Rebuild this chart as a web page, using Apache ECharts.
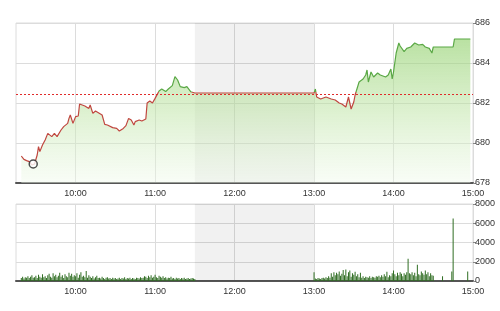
<!DOCTYPE html>
<html>
<head>
<meta charset="utf-8">
<script src="https://cdn.jsdelivr.net/npm/echarts@6/dist/echarts.min.js"></script>
<style>html,body{margin:0;padding:0;background:#fff}#c{width:500px;height:311px}</style>
</head>
<body>
<div id="c"></div>
<script>
// ---- data ----
const refLevel = 682.45;
const colorSplit = 682.52;
const priceTimes = ['09:19','09:21','09:23','09:25','09:27','09:29','09:31','09:32','09:33','09:35','09:37','09:39','09:40','09:42','09:44','09:46','09:49','09:51','09:54','09:55','09:56','09:58','10:00','10:02','10:03','10:05','10:07','10:08','10:10','10:11','10:13','10:15','10:20','10:22','10:24','10:28','10:31','10:33','10:36','10:38','10:40','10:42','10:44','10:45','10:48','10:50','10:53','10:54','10:56','10:58','11:00','11:03','11:05','11:08','11:10','11:13','11:15','11:17','11:19','11:22','11:24','11:27','11:28','11:30','13:00','13:01','13:02','13:05','13:09','13:13','13:16','13:19','13:21','13:24','13:26','13:28','13:30','13:31','13:34','13:37','13:39','13:40','13:41','13:43','13:45','13:48','13:50','13:54','13:56','13:58','13:59','14:00','14:02','14:04','14:05','14:08','14:10','14:13','14:16','14:19','14:22','14:24','14:27','14:29','14:30','14:45','14:46','14:58'];
const priceValues = [679.35,679.18,679.12,679.07,678.9,678.95,679.4,679.82,679.57,679.9,680.15,680.48,680.42,680.32,680.48,680.32,680.65,680.82,680.98,681.23,681.4,680.98,681.32,681.35,681.95,681.9,681.85,681.9,681.73,681.9,681.48,681.6,681.4,680.93,680.9,680.77,680.73,680.6,680.73,680.87,681.23,681.15,680.9,681.07,681.15,681.1,681.2,682.0,682.1,682.0,682.23,682.6,682.7,682.57,682.7,682.87,683.32,683.15,682.82,682.77,682.82,682.56,682.6,682.5,682.5,682.7,682.3,682.2,682.3,682.2,682.15,682.0,681.95,681.8,682.3,681.7,682.05,682.4,683.05,683.2,683.4,683.65,683.05,683.55,683.3,683.5,683.4,683.3,683.4,683.7,683.2,683.55,684.5,685.0,684.85,684.57,684.73,684.8,685.0,684.9,684.93,684.8,684.73,684.5,684.8,684.8,685.2,685.2];
const markerTime = '09:28';
const markerValue = 678.95;

const volMorningStart = '09:19';
const volMorning = [300,450,250,400,350,500,300,450,600,350,
  400,550,300,650,450,350,700,400,500,300,
  600,750,450,350,800,500,650,400,550,850,
  450,600,300,700,500,400,850,550,750,450,
  600,500,800,350,650,900,450,550,400,1050,
  350,600,450,300,500,250,400,550,300,350,
  250,450,300,200,350,400,250,300,200,350,
  250,300,200,250,350,200,300,250,400,200,
  300,250,350,200,300,250,200,350,300,250,
  400,300,350,500,450,300,550,400,600,350,
  450,650,400,300,550,450,350,500,300,400,
  250,350,300,450,250,300,200,350,250,300,
  200,300,250,350,200,250,300,200,250,300,
  250,200];
const volAfternoonStart = '13:00';
const volAfternoon = [900,
  250,200,300,250,200,300,350,250,400,300,
  500,350,800,450,900,600,850,700,1000,550,
  750,1150,600,1200,500,900,1100,450,800,650,
  950,500,700,400,850,350,500,300,450,400,
  350,500,300,450,400,350,500,450,550,400,
  600,450,700,500,950,400,600,500,800,1100,
  700,500,850,600,900,750,500,800,650,900,
  2300,800,700,900,600,850,500,1700,700,600,
  1000,800,650,1100,700,900,500,800,600,550];
const volLateTimes = ['14:37','14:44','14:45','14:56'];
const volLateValues = [500,1000,6500,1000];

const priceTicks = {min:678, max:686, step:2};
const volTicks = {min:0, max:8000, step:2000};
const lunch = ['11:30','13:00'];

// ---- build ----
const pad = n => (n < 10 ? '0' : '') + n;
const toMin = s => { const p = s.split(':'); return +p[0]*60 + +p[1]; };
const toStr = m => pad(Math.floor(m/60)) + ':' + pad(m % 60);
const times = [];
for (let m = toMin('09:15'); m <= toMin('15:00'); m++) times.push(toStr(m));

const volData = [];
volMorning.forEach((v,i)=>volData.push([toStr(toMin(volMorningStart)+i), v]));
volAfternoon.forEach((v,i)=>volData.push([toStr(toMin(volAfternoonStart)+i), v]));
volLateTimes.forEach((t,i)=>volData.push([t, volLateValues[i]]));

const isHour = (i, v) => /:00$/.test(v);
const font = 'Liberation Sans, Arial, sans-serif';
const red = '#c0463f', green = '#5aa845';

const pMax = Math.max(...priceValues), pMin = Math.min(...priceValues);
const f = (pMax - colorSplit) / (pMax - pMin);
const lineGrad = new echarts.graphic.LinearGradient(0,0,0,1,[
  {offset:0, color:green},{offset:f, color:green},{offset:f, color:red},{offset:1, color:red}]);

function xAx(gi){
  return {type:'category', gridIndex:gi, data:times, boundaryGap:false,
    axisLine:{show:true, lineStyle:{color:'#555', width:2}},
    axisTick:{show:false},
    axisLabel:{interval:isHour, color:'#333', fontSize:9, margin:6, fontFamily:font},
    splitLine:{show:true, interval:isHour, lineStyle:{color:'#dcdcdc', width:1}}};
}
function yAx(gi, t){
  return {type:'value', gridIndex:gi, position:'right', min:t.min, max:t.max, interval:t.step,
    axisLine:{show:false}, axisTick:{show:true, length:3, lineStyle:{color:'#888'}},
    axisLabel:{color:'#333', fontSize:9, margin:2, fontFamily:font, formatter:v=>String(v)},
    splitLine:{show:true, lineStyle:{color:'#dcdcdc', width:1}}};
}

const chart = echarts.init(document.getElementById('c'), null, {renderer:'canvas'});
chart.setOption({
  animation:false,
  grid:[
    {left:16, right:27, top:23, height:160, show:true, borderColor:'#dcdcdc', borderWidth:1},
    {left:16, right:27, top:204, height:77, show:true, borderColor:'#dcdcdc', borderWidth:1}
  ],
  xAxis:[xAx(0), xAx(1)],
  yAxis:[yAx(0, priceTicks), yAx(1, volTicks)],
  series:[
    {type:'line', xAxisIndex:0, yAxisIndex:0, z:3,
     data:priceTimes.map((t,i)=>[t, priceValues[i]]),
     showSymbol:false, symbol:'none',
     lineStyle:{width:1.2, color:lineGrad},
     areaStyle:{color:new echarts.graphic.LinearGradient(0,0,0,1,[
       {offset:0, color:'rgba(145,208,108,0.9)'},{offset:0.5, color:'rgba(190,228,165,0.75)'},{offset:1, color:'rgba(240,250,235,0.6)'}])},
     markLine:{silent:true, symbol:'none', label:{show:false},
       lineStyle:{color:'#e02a2a', type:[2,2], width:1.2},
       data:[{yAxis:refLevel}]}
    },
    {type:'line', xAxisIndex:0, yAxisIndex:0, z:1, data:[], 
     markArea:{silent:true, itemStyle:{color:'rgba(0,0,0,0.055)'}, data:[[{xAxis:lunch[0]},{xAxis:lunch[1]}]]}},
    {type:'scatter', xAxisIndex:0, yAxisIndex:0, z:5, data:[[markerTime, markerValue]],
     symbol:'circle', symbolSize:8, itemStyle:{color:'#fff', borderColor:'#222', borderWidth:1.5}},
    {type:'bar', xAxisIndex:1, yAxisIndex:1, z:3, data:volData, barWidth:1,
     itemStyle:{color:'#2f6d22'}},
    {type:'line', xAxisIndex:1, yAxisIndex:1, z:1, data:[],
     markArea:{silent:true, itemStyle:{color:'rgba(0,0,0,0.055)'}, data:[[{xAxis:lunch[0]},{xAxis:lunch[1]}]]}}
  ]
});
</script>
</body>
</html>
